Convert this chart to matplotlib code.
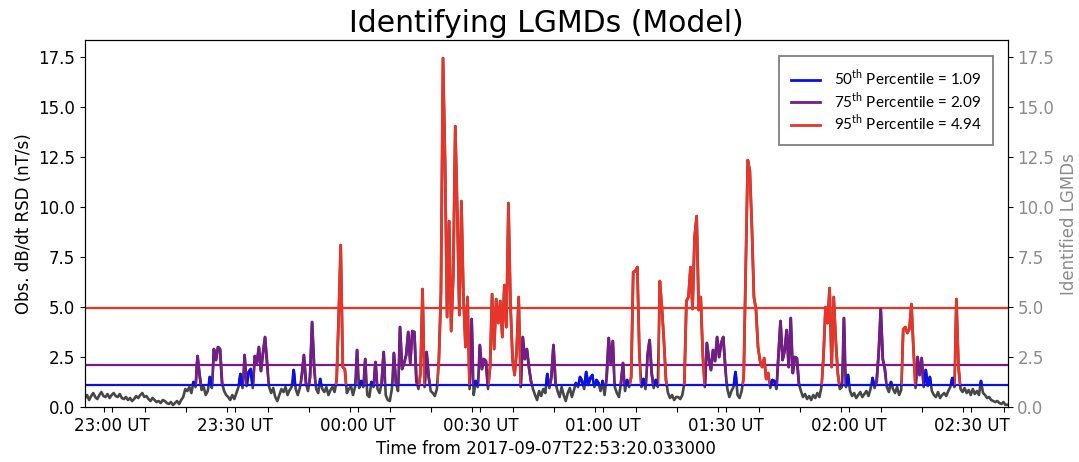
import numpy as np
import matplotlib
matplotlib.use("Agg")
import matplotlib.pyplot as plt
from matplotlib.patches import Rectangle
from matplotlib.lines import Line2D

# dB/dt RSD, one sample every 30 s from 2017-09-07T22:53:20
start_label = "2017-09-07T22:53:20.033000"
step_min = 0.5
rsd = np.array([
    0.45, 0.6, 0.35, 0.55, 0.7, 0.5, 0.4, 0.6, 0.75, 0.55,
    0.5, 0.65, 0.45, 0.6, 0.7, 0.55, 0.5, 0.65, 0.45, 0.4,
    0.5, 0.35, 0.45, 0.3, 0.4, 0.55, 0.45, 0.6, 0.7, 0.5,
    0.55, 0.4, 0.3, 0.45, 0.35, 0.25, 0.3, 0.2, 0.35, 0.3,
    0.2, 0.15, 0.25, 0.1, 0.2, 0.3, 0.15, 0.35, 0.5, 0.9,
    0.8, 1.0, 0.7, 1.25, 1.0, 2.55, 1.6, 0.85, 1.0, 0.6,
    0.8, 1.5, 0.95, 2.9, 2.35, 3.0, 2.9, 1.2, 0.8, 0.6,
    0.5, 0.35, 0.6, 0.4, 0.7, 1.0, 1.65, 0.95, 2.6, 1.05,
    1.75, 1.9, 0.95, 2.55, 2.2, 3.0, 1.8, 2.7, 3.5, 2.2,
    1.0, 0.7, 0.95, 0.5, 0.3, 0.6, 0.9, 0.75, 1.0, 0.6,
    0.85, 1.0, 1.85, 0.9, 0.6, 0.95, 1.6, 2.6, 1.2, 0.8,
    1.5, 4.25, 2.0, 0.9, 0.7, 1.4, 0.9, 0.75, 1.0, 0.6,
    0.85, 1.0, 0.75, 1.35, 4.5, 8.1, 2.0, 1.9, 0.7, 0.9,
    1.05, 0.6, 1.0, 2.85, 0.95, 1.3, 1.0, 2.4, 0.6, 0.5,
    1.25, 1.0, 2.25, 0.9, 0.7, 1.2, 2.75, 0.6, 0.35, 0.3,
    0.9, 2.7, 1.2, 0.8, 4.0, 1.9, 2.2, 2.6, 3.75, 2.2,
    3.8, 3.75, 1.3, 0.9, 1.7, 5.9, 1.0, 2.75, 1.5, 0.8,
    0.7, 0.55, 0.9, 2.4, 5.7, 17.45, 12.3, 4.5, 9.3, 3.8,
    6.5, 14.05, 9.7, 4.6, 10.3, 5.5, 3.0, 5.5, 0.9, 4.4,
    0.6, 1.3, 1.0, 3.1, 1.9, 2.4, 2.3, 0.9, 2.0, 5.65,
    2.9, 5.4, 4.2, 5.3, 3.5, 6.1, 4.0, 10.2, 5.1, 2.4,
    1.6, 2.8, 5.5, 1.0, 3.5, 2.4, 2.9, 2.0, 1.3, 0.9,
    0.6, 0.35, 0.8, 0.55, 0.9, 0.7, 1.65, 0.95, 1.5, 3.1,
    1.2, 0.8, 0.5, 1.0, 0.6, 0.3, 0.7, 0.95, 0.5, 0.85,
    1.2, 1.0, 1.5, 1.3, 0.9, 1.75, 1.1, 1.45, 1.6, 1.0,
    1.35, 1.2, 0.8, 1.3, 0.6, 1.5, 3.45, 2.2, 3.3, 1.0,
    0.7, 0.5, 1.2, 2.2, 0.8, 1.35, 1.0, 1.5, 6.75, 6.8,
    7.0, 2.7, 1.0, 1.4, 0.9, 2.6, 3.35, 1.7, 0.95, 1.35,
    1.0, 6.3, 5.0, 3.3, 1.35, 0.7, 0.45, 0.6, 0.35, 0.5,
    0.5, 0.4, 0.6, 1.2, 5.3, 5.5, 7.0, 4.9, 8.5, 9.55,
    4.85, 5.5, 2.6, 1.0, 3.2, 2.4, 1.85, 2.85, 2.3, 3.5,
    2.5, 3.2, 3.5, 2.0, 0.9, 0.5, 0.8, 1.0, 1.75, 0.6,
    0.45, 0.8, 1.5, 7.0, 12.35, 11.8, 9.0, 5.5, 4.9, 3.0,
    2.3, 2.0, 2.45, 1.4, 1.7, 0.95, 1.35, 1.3, 0.9, 2.6,
    4.3, 2.35, 2.8, 3.85, 2.0, 4.45, 1.7, 2.5, 2.45, 1.15,
    0.8, 0.5, 0.65, 0.4, 0.55, 0.35, 0.6, 0.45, 0.7, 0.5,
    1.0, 2.5, 5.0, 4.2, 5.95, 2.0, 5.5, 3.35, 1.7, 0.9,
    1.0, 4.45, 1.0, 1.6, 0.8, 0.55, 0.7, 0.45, 0.6, 0.75,
    0.5, 0.65, 0.8, 0.55, 0.9, 1.45, 0.95, 1.3, 2.7, 4.9,
    2.4, 1.9, 1.0, 0.75, 1.25, 0.9, 0.7, 1.0, 0.6, 0.85,
    3.9, 4.0, 3.7, 3.9, 5.15, 2.9, 0.95, 2.5, 1.6, 2.45,
    1.0, 1.85, 1.05, 1.5, 0.8, 0.6, 0.5, 0.75, 0.45, 0.6,
    0.7, 0.55, 0.8, 1.0, 1.45, 1.0, 5.4, 2.0, 0.9, 0.75,
    0.95, 0.7, 0.85, 0.6, 0.9, 0.65, 0.8, 0.6, 1.3, 0.7,
    0.6, 0.45, 0.5, 0.35, 0.3, 0.25, 0.3, 0.2, 0.15, 0.25,
    0.1, 0.12,
])
minutes = np.arange(len(rsd)) * step_min

percentiles = [50, 75, 95]
thresholds = [1.09, 2.09, 4.94]
colors = ["#0a10e8", "#741c88", "#e8352a"]
tick_labels = ["23:00 UT", "23:30 UT", "00:00 UT", "00:30 UT",
               "01:00 UT", "01:30 UT", "02:00 UT", "02:30 UT"]


def minutes_after_start(hhmm):
    h, m = int(hhmm[:2]), int(hhmm[3:5])
    t = h * 60 + m - (22 * 60 + 53 + 20 / 60)
    return t % (24 * 60)


tick_pos = [minutes_after_start(s) for s in tick_labels]
minor_pos = np.arange(minutes_after_start("22:58"), minutes[-1], 10)

plt.rcParams["mathtext.fontset"] = "custom"
plt.rcParams["mathtext.rm"] = "Lato"

fig = plt.figure(figsize=(10.79, 4.62), dpi=100)
ax = fig.add_axes([0.0788, 0.119, 0.855, 0.794])

ax.plot(minutes, rsd, color="#474747", lw=1.9, zorder=2)

for thr, col in zip(thresholds, colors):
    ax.axhline(thr, color=col, lw=1.6, zorder=2.5)

# colour each excursion above the median by the highest level it reaches
above = (rsd > thresholds[0]).astype(int)
edges = np.diff(np.r_[0, above, 0])
starts = np.where(edges == 1)[0]
ends = np.where(edges == -1)[0] - 1
for s, e in zip(starts, ends):
    peak = rsd[s:e + 1].max()
    if peak >= thresholds[2]:
        col = colors[2]
    elif peak >= thresholds[1]:
        col = colors[1]
    else:
        col = colors[0]
    lo, hi = max(s - 1, 0), min(e + 1, len(rsd) - 1)
    seg, = ax.plot(minutes[lo:hi + 1], rsd[lo:hi + 1], color=col, lw=2.0, zorder=3)
    clip = Rectangle((minutes[lo], thresholds[0]), minutes[hi] - minutes[lo], 50,
                     transform=ax.transData)
    seg.set_clip_path(clip)

ax.set_xlim(minutes[0], minutes[-1])
ax.set_ylim(0, 18.35)
ax.set_xticks(tick_pos)
ax.set_xticklabels(tick_labels)
ax.set_xticks(minor_pos, minor=True)
ax.tick_params(axis="x", which="both", length=3.5, width=0.8, labelsize=12)
ax.tick_params(axis="y", labelsize=12)
ax.set_yticks(np.arange(0, 17.6, 2.5))
ax.set_xlabel("Time from " + start_label, fontsize=12)
ax.set_ylabel("Obs. dB/dt RSD (nT/s)", fontsize=12)
ax.set_title("Identifying LGMDs (Model)", fontsize=21.5)

ax2 = ax.twinx()
ax2.set_ylim(ax.get_ylim())
ax2.set_yticks(np.arange(0, 17.6, 2.5))
ax2.tick_params(axis="y", labelsize=12, labelcolor="#8c8c8c")
ax2.set_ylabel("Identified LGMDs", fontsize=12, color="#8c8c8c")

handles = [Line2D([], [], color=c, lw=2) for c in colors]
labels = [f"{p}$^{{\\mathrm{{th}}}}$ Percentile = {t:.2f}"
          for p, t in zip(percentiles, thresholds)]
leg = ax2.legend(handles, labels, loc="upper right", bbox_to_anchor=(0.984, 0.956),
                 borderaxespad=0, prop={"family": "Lato", "size": 11},
                 fancybox=False, edgecolor="#808080", framealpha=1,
                 handlelength=1.9, borderpad=0.75, labelspacing=0.12,
                 handletextpad=0.9)
leg.get_frame().set_linewidth(1.3)

fig.savefig("out.png", dpi=100)
